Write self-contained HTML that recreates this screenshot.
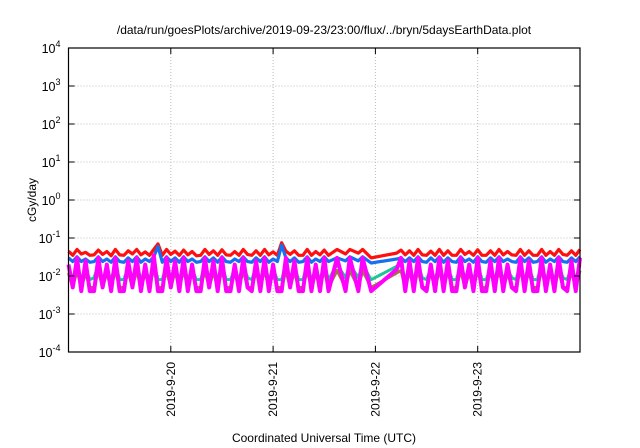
<!DOCTYPE html>
<html><head><meta charset="utf-8"><style>
body{margin:0;background:#fff;}
svg{display:block;font-family:"Liberation Sans",sans-serif;}
</style></head><body>
<svg id="chart" width="640" height="448" viewBox="0 0 640 448">
<rect width="640" height="448" fill="#fff"/>
<text x="324" y="34" font-size="12" text-anchor="middle">/data/run/goesPlots/archive/2019-09-23/23:00/flux/../bryn/5daysEarthData.plot</text>
<text transform="translate(36,200) rotate(-90)" font-size="12" text-anchor="middle">cGy/day</text>
<text x="324" y="442" font-size="12" text-anchor="middle">Coordinated Universal Time (UTC)</text>
<g id="grid"></g><g id="series"></g><g id="axes"></g>
</svg>
<script>
const yExps=[-4,-3,-2,-1,0,1,2,3,4];
const xTickLabels=["2019-9-20","2019-9-21","2019-9-22","2019-9-23"];
const xTickHours=[24,48,72,96];
const times=[0,1,2,3,4,5,6,7,8,9,10,11,12,13,14,15,16,17,18,19,20,21,22,23,24,25,26,27,28,29,30,31,32,33,34,35,36,37,38,39,40,41,42,43,44,45,46,47,48,49,50,51,52,53,54,55,56,57,58,59,60,61,
63,65,66,68,69,71,77,
78,79,80,81,82,83,84,85,86,87,88,89,90,91,92,93,94,95,96,97,98,99,100,101,102,103,104,105,106,107,108,109,110,111,112,113,114,115,116,117,118,119,120];
const red=[.045,.035,.05,.038,.042,.035,.036,.048,.037,.044,.034,.05,.036,.035,.046,.038,.05,.036,.043,.035,.05,.07,.035,.05,.037,.045,.035,.048,.036,.044,.034,.035,.05,.037,.046,.035,.049,.036,.035,.044,.035,.05,.037,.035,.046,.035,.05,.036,.043,.035,.075,.045,.037,.046,.035,.035,.05,.035,.044,.036,.048,.035,
.05,.038,.05,.04,.05,.03,.04,
.048,.036,.046,.035,.05,.036,.035,.045,.035,.05,.035,.046,.035,.035,.05,.037,.044,.035,.049,.035,.035,.046,.035,.05,.036,.044,.036,.035,.05,.035,.046,.035,.035,.05,.035,.044,.035,.05,.037,.035,.046,.035,.05];
const blue=[.03,.024,.032,.024,.028,.023,.024,.032,.024,.028,.023,.032,.024,.023,.03,.024,.032,.023,.028,.024,.032,.06,.023,.032,.024,.03,.023,.032,.024,.028,.023,.024,.032,.024,.03,.023,.032,.024,.023,.028,.024,.032,.024,.023,.03,.024,.032,.023,.028,.024,.065,.03,.024,.03,.023,.024,.032,.023,.028,.024,.032,.024,
.03,.025,.032,.025,.032,.022,.028,
.03,.024,.03,.024,.032,.024,.023,.03,.024,.032,.023,.03,.024,.023,.032,.024,.028,.023,.032,.024,.023,.03,.024,.032,.024,.028,.024,.023,.032,.024,.03,.023,.024,.032,.023,.028,.024,.032,.024,.023,.03,.024,.032];
const teal=[.018,.008,.02,.008,.016,.008,.009,.02,.008,.015,.008,.02,.008,.008,.017,.009,.02,.008,.015,.008,.022,.008,.008,.02,.009,.017,.008,.02,.008,.015,.008,.008,.02,.009,.017,.008,.02,.008,.008,.015,.008,.02,.009,.008,.017,.008,.02,.008,.015,.008,.008,.02,.009,.017,.008,.008,.02,.008,.015,.008,.02,.008,
.02,.009,.02,.009,.02,.008,.018,
.02,.008,.017,.008,.02,.009,.008,.015,.008,.02,.008,.017,.008,.008,.02,.009,.015,.008,.02,.008,.008,.017,.008,.02,.008,.015,.009,.008,.02,.008,.017,.008,.008,.02,.008,.015,.008,.02,.009,.008,.017,.008,.02];
const olive=[.012,.005,.014,.005,.012,.005,.005,.014,.005,.012,.005,.014,.005,.005,.013,.005,.014,.005,.012,.005,.016,.005,.005,.014,.005,.013,.005,.014,.005,.012,.005,.005,.014,.005,.013,.005,.014,.005,.005,.012,.005,.014,.005,.005,.013,.005,.014,.005,.012,.005,.005,.014,.005,.013,.005,.005,.014,.005,.012,.005,.014,.005,
.014,.005,.014,.005,.014,.005,.012,
.014,.005,.013,.005,.014,.005,.005,.012,.005,.014,.005,.013,.005,.005,.014,.005,.012,.005,.014,.005,.005,.013,.005,.014,.005,.012,.005,.005,.014,.005,.013,.005,.005,.014,.005,.012,.005,.014,.005,.005,.013,.005,.014];
const magenta=[.02,.005,.03,.004,.025,.004,.004,.03,.005,.02,.004,.03,.004,.004,.025,.005,.03,.004,.02,.004,.035,.004,.004,.03,.005,.025,.004,.03,.004,.02,.004,.004,.03,.005,.025,.004,.03,.004,.004,.02,.004,.03,.005,.004,.025,.004,.03,.004,.02,.004,.004,.03,.005,.025,.004,.004,.03,.004,.02,.004,.03,.004,
.03,.004,.03,.004,.03,.004,.015,
.03,.004,.025,.004,.03,.005,.004,.02,.004,.03,.004,.025,.004,.004,.03,.005,.02,.004,.03,.004,.004,.025,.004,.03,.004,.02,.005,.004,.03,.004,.025,.004,.004,.03,.004,.02,.004,.03,.005,.004,.025,.004,.03];
const NS="http://www.w3.org/2000/svg";
const L=68.5,R=580,T=48,B=352,X0=0,X1=120;
function xs(h){return L+(h-X0)/(X1-X0)*(R-L);}
function ys(v){return B-(Math.log10(v)+4)/8*(B-T);}
function mk(tag,attrs,parent){const e=document.createElementNS(NS,tag);for(const k in attrs)e.setAttribute(k,attrs[k]);parent.appendChild(e);return e;}
const grid=document.getElementById('grid'),axes=document.getElementById('axes'),ser=document.getElementById('series');
yExps.forEach(function(p){
  const y=ys(Math.pow(10,p));
  if(p>-4&&p<4){const g=mk('line',{x1:L,x2:R,y1:y,y2:y,stroke:'#bbb','stroke-width':1,'stroke-dasharray':'1,2'},grid);
  
  }
  const t1=mk('line',{x1:L,x2:L+6,y1:y,y2:y,stroke:'#000'},axes);
  
  
  const t2=mk('line',{x1:R-6,x2:R,y1:y,y2:y,stroke:'#000'},axes);
  
  
  const tx=mk('text',{x:L-8,y:y+5,'font-size':12.5,'text-anchor':'end'},axes);
  
  
  tx.appendChild(document.createTextNode('10'));
  const sp=mk('tspan',{dy:-6,'font-size':9},tx);sp.textContent=String(p);
});
xTickHours.forEach(function(h,i){
  const x=xs(h);
  const g=mk('line',{x1:x,x2:x,y1:T,y2:B,stroke:'#bbb','stroke-width':1,'stroke-dasharray':'1,2'},grid);
  
  
  const t1=mk('line',{x1:x,x2:x,y1:B-6,y2:B,stroke:'#000'},axes);
  
  
  const t2=mk('line',{x1:x,x2:x,y1:T,y2:T+6,stroke:'#000'},axes);
  
  
  const tx=mk('text',{transform:'translate('+(x+4)+','+(B+10)+') rotate(-90)','font-size':12,'text-anchor':'end'},axes);
  
  
  tx.textContent=xTickLabels[i];
});
const fr=mk('rect',{x:L,y:T,width:R-L,height:B-T,fill:'none',stroke:'#000','stroke-width':1.2},axes);


const seriesList=[[red,'#ff1010','series-red',3.2],[blue,'#1670f0','series-blue',3.2],[teal,'#1ec59a','series-teal',3],[olive,'#a0783c','series-olive',3],[magenta,'#ff00ff','series-magenta',4]];
seriesList.forEach(function(s){
  const d=times.map(function(t,i){return (i?'L':'M')+xs(t).toFixed(2)+','+ys(s[0][i]).toFixed(2);}).join('');
  const p=mk('path',{d:d,fill:'none',stroke:s[1],'stroke-width':s[3],'stroke-linejoin':'round'},ser);
  
  
});
</script>
</body></html>
